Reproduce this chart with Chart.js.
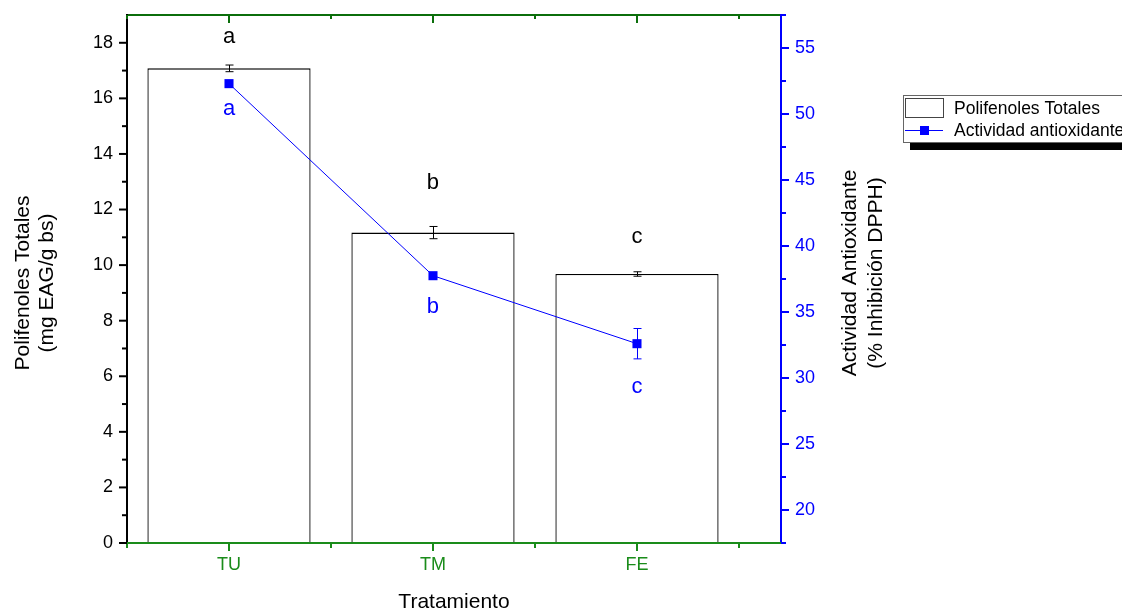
<!DOCTYPE html>
<html>
<head>
<meta charset="utf-8">
<script src="https://cdn.jsdelivr.net/npm/chart.js@4.4.0/dist/chart.umd.min.js"></script>
<style>
  html, body { margin: 0; padding: 0; background: #fff; }
  #wrap { width: 1122px; height: 609px; }
</style>
</head>
<body>
<div id="wrap"><canvas id="chart"></canvas></div>
<script>
// datos
const categories = ["TU", "TM", "FE"];
const catPos = [1, 2, 3];
const polifenoles = [17.08, 11.17, 9.68];
const polifenolesErr = [0.12, 0.22, 0.08];
const polifenolesLetters = ["a", "b", "c"];
const polifenolesLetterY = [18.2, 12.95, 11.0];
const actividad = [52.3, 37.75, 32.6];
const actividadErr = [0, 0, 1.15];
const actividadLetters = ["a", "b", "c"];
const actividadLetterY = [50.4, 35.4, 29.3];
const yTicks = [0, 2, 4, 6, 8, 10, 12, 14, 16, 18];
const y2Ticks = [20, 25, 30, 35, 40, 45, 50, 55];

const FONT = '"Liberation Sans", Arial, sans-serif';
const BLUE = "#0000ff";
const GREEN = "#1a8c1a";
const DARKGREEN = "#0b6e0b";

const overlay = {
    id: "overlay",
    afterDatasetsDraw(chart) {
        const ctx = chart.ctx;
        const x = chart.scales.x, y = chart.scales.y, y2 = chart.scales.y2;
        ctx.save();
        // barras de error
        const cap = (cx, v, e, sc, color) => {
            if (!e) return;
            const t = sc.getPixelForValue(v + e), b = sc.getPixelForValue(v - e);
            ctx.strokeStyle = color;
            ctx.lineWidth = 1;
            ctx.beginPath();
            ctx.moveTo(cx, t); ctx.lineTo(cx, b);
            ctx.moveTo(cx - 4, t); ctx.lineTo(cx + 4, t);
            ctx.moveTo(cx - 4, b); ctx.lineTo(cx + 4, b);
            ctx.stroke();
        };
        catPos.forEach((c, i) => {
            const cx = Math.round(x.getPixelForValue(c)) + 0.5;
            cap(cx, polifenoles[i], polifenolesErr[i], y, "#000");
            cap(cx, actividad[i], actividadErr[i], y2, BLUE);
        });
        // letras
        ctx.font = "22px " + FONT;
        ctx.textAlign = "center";
        ctx.textBaseline = "middle";
        catPos.forEach((c, i) => {
            const cx = x.getPixelForValue(c);
            ctx.fillStyle = "#000";
            ctx.fillText(polifenolesLetters[i], cx, y.getPixelForValue(polifenolesLetterY[i]));
            ctx.fillStyle = BLUE;
            ctx.fillText(actividadLetters[i], cx, y2.getPixelForValue(actividadLetterY[i]));
        });
        ctx.restore();
    },
    afterDraw(chart) {
        const ctx = chart.ctx;
        const a = chart.chartArea;
        const x = chart.scales.x, y = chart.scales.y, y2 = chart.scales.y2;
        ctx.save();
        ctx.lineWidth = 2;

        // ejes
        ctx.strokeStyle = DARKGREEN;
        ctx.beginPath(); ctx.moveTo(a.left, a.top); ctx.lineTo(a.right, a.top); ctx.stroke();
        ctx.strokeStyle = "#000";
        ctx.beginPath(); ctx.moveTo(a.left, a.top - 1); ctx.lineTo(a.left, a.bottom + 1); ctx.stroke();
        ctx.strokeStyle = BLUE;
        ctx.beginPath(); ctx.moveTo(a.right, a.top - 1); ctx.lineTo(a.right, a.bottom + 1); ctx.stroke();
        ctx.strokeStyle = GREEN;
        ctx.beginPath(); ctx.moveTo(a.left, a.bottom); ctx.lineTo(a.right, a.bottom); ctx.stroke();

        // marcas del eje x (abajo hacia fuera, arriba hacia dentro)
        for (let v = 0.5; v <= 3.5; v += 0.5) {
            const px = x.getPixelForValue(v);
            const major = Number.isInteger(v);
            ctx.strokeStyle = GREEN;
            ctx.beginPath(); ctx.moveTo(px, a.bottom); ctx.lineTo(px, a.bottom + (major ? 8 : 5)); ctx.stroke();
            ctx.strokeStyle = DARKGREEN;
            ctx.beginPath(); ctx.moveTo(px, a.top); ctx.lineTo(px, a.top + (major ? 8 : 4)); ctx.stroke();
        }
        // marcas eje izquierdo
        ctx.strokeStyle = "#000";
        for (let v = 0; v <= 18; v += 1) {
            const py = y.getPixelForValue(v);
            ctx.beginPath(); ctx.moveTo(a.left, py); ctx.lineTo(a.left - (v % 2 === 0 ? 8 : 5), py); ctx.stroke();
        }
        // marcas eje derecho
        ctx.strokeStyle = BLUE;
        for (let v = 17.5; v <= 57.5; v += 2.5) {
            const py = y2.getPixelForValue(v);
            ctx.beginPath(); ctx.moveTo(a.right, py); ctx.lineTo(a.right + (v % 5 === 0 ? 8 : 5), py); ctx.stroke();
        }

        // titulos de ejes
        ctx.fillStyle = "#000";
        ctx.font = "21px " + FONT;
        ctx.textAlign = "center";
        ctx.textBaseline = "middle";
        const midY = (a.top + a.bottom) / 2;
        ctx.save();
        ctx.translate(23, midY + 4); ctx.rotate(-Math.PI / 2);
        ctx.fillText("Polifenoles Totales", 0, 0);
        ctx.fillText("(mg EAG/g bs)", 0, 24);
        ctx.restore();
        ctx.save();
        ctx.translate(850, midY - 6); ctx.rotate(-Math.PI / 2);
        ctx.fillText("Actividad Antioxidante", 0, 0);
        ctx.fillText("(% Inhibición DPPH)", 0, 26);
        ctx.restore();
        ctx.textBaseline = "alphabetic";
        ctx.fillText("Tratamiento", (a.left + a.right) / 2, 608);

        // leyenda
        ctx.fillStyle = "#000";
        ctx.fillRect(910, 142, 220, 8);
        ctx.fillStyle = "#fff";
        ctx.fillRect(903, 95, 230, 47);
        ctx.strokeStyle = "#666";
        ctx.lineWidth = 1;
        ctx.strokeRect(903.5, 95.5, 230, 47);
        ctx.strokeStyle = "#444";
        ctx.strokeRect(905.5, 98.5, 38, 19);
        ctx.strokeStyle = BLUE;
        ctx.beginPath(); ctx.moveTo(905, 130.5); ctx.lineTo(943, 130.5); ctx.stroke();
        ctx.fillStyle = BLUE;
        ctx.fillRect(920, 126, 9, 9);
        ctx.fillStyle = "#000";
        ctx.font = "17.5px " + FONT;
        ctx.textAlign = "left";
        ctx.textBaseline = "middle";
        ctx.fillText("Polifenoles Totales", 954, 109);
        ctx.fillText("Actividad antioxidante", 954, 131);
        ctx.restore();
    }
};

const noPad = s => { s.paddingTop = 0; s.paddingBottom = 0; s.paddingLeft = 0; s.paddingRight = 0; };

new Chart(document.getElementById("chart"), {
    type: "bar",
    data: {
        datasets: [
            {
                type: "line",
                label: "Actividad antioxidante",
                data: catPos.map((c, i) => ({ x: c, y: actividad[i] })),
                yAxisID: "y2",
                borderColor: BLUE,
                backgroundColor: BLUE,
                borderWidth: 1,
                pointStyle: "rect",
                pointRadius: 6.4,
                pointBorderWidth: 0,
                tension: 0,
                order: 0
            },
            {
                label: "Polifenoles Totales",
                data: catPos.map((c, i) => ({ x: c, y: polifenoles[i] })),
                yAxisID: "y",
                backgroundColor: "#ffffff",
                borderColor: "#000",
                borderWidth: 1.3,
                barPercentage: 0.8,
                categoryPercentage: 1.0,
                order: 1
            }
        ]
    },
    options: {
        responsive: true,
        maintainAspectRatio: false,
        devicePixelRatio: 1,
        animation: false,
        layout: { autoPadding: false, padding: { top: 15, left: 0, right: 0, bottom: 0 } },
        plugins: {
            legend: { display: false },
            tooltip: { enabled: false }
        },
        scales: {
            x: {
                type: "linear",
                offset: false,
                min: 0.5,
                max: 3.706,
                afterBuildTicks: s => { s.ticks = catPos.map(v => ({ value: v })); },
                afterFit: s => { s.height = 66; noPad(s); },
                grid: { display: false, drawTicks: false, offset: false },
                border: { display: false },
                ticks: {
                    padding: 11,
                    color: GREEN,
                    font: { family: FONT, size: 18 },
                    callback: v => categories[catPos.indexOf(v)] || ""
                }
            },
            y: {
                position: "left",
                min: 0,
                max: 19,
                afterBuildTicks: s => { s.ticks = yTicks.map(v => ({ value: v })); },
                afterFit: s => { s.width = 127; noPad(s); },
                grid: { display: false, drawTicks: false },
                border: { display: false },
                ticks: { padding: 14, color: "#000", font: { family: FONT, size: 18 } }
            },
            y2: {
                position: "right",
                min: 17.5,
                max: 57.5,
                afterBuildTicks: s => { s.ticks = y2Ticks.map(v => ({ value: v })); },
                afterFit: s => { s.width = 341; noPad(s); },
                grid: { display: false, drawTicks: false },
                border: { display: false },
                ticks: { padding: 14, color: BLUE, font: { family: FONT, size: 18 } }
            }
        }
    },
    plugins: [overlay]
});
</script>
</body>
</html>
